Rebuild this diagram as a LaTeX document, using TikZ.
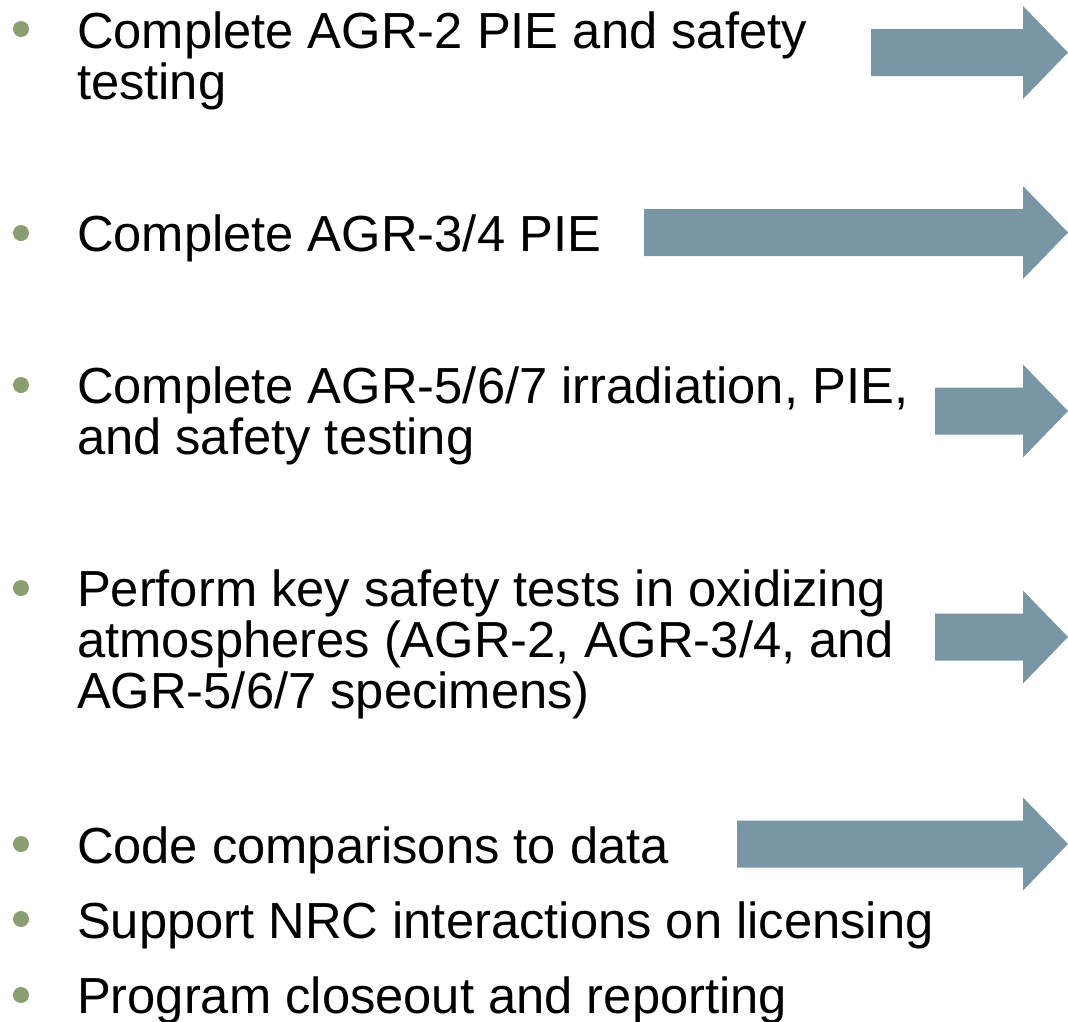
\documentclass[tikz,border=0pt]{standalone}
\usepackage{fontspec}
\setmainfont{Liberation Sans}
\usepackage{tikz}
\usetikzlibrary{
    calc,
    positioning
}
\definecolor{arrowgrey}{RGB}{120,150,163}
\definecolor{bulletgreen}{RGB}{140,158,111}
\tikzset{
    every picture/.style = {
        x = 1pt,
        y = -1pt
    },
    bultext/.style = {
        anchor = base west,
        align = left,
        inner sep = 0pt,
        outer sep = 0pt,
        font = \fontsize{50.7}{51}\selectfont
    },
    bul/.style = {
        circle,
        fill = bulletgreen,
        inner sep = 0pt,
        minimum size = 16pt
    },
    blockarrow/.style = {
        fill = arrowgrey
    }
}

\begin{document}
\begin{tikzpicture}
    \useasboundingbox (0,0) rectangle (1068,1021);

    % text nodes sit on the baseline of their last line
    \node[bultext] (t1) at (77,99)   {Complete AGR-2 PIE and safety\\testing};
    \node[bultext] (t2) at (77,251)  {Complete AGR-3/4 PIE};
    \node[bultext] (t3) at (77,454)  {Complete AGR-5/6/7 irradiation, PIE,\\and safety testing};
    \node[bultext] (t4) at (77,708)  {Perform key safety tests in oxidizing\\atmospheres (AGR-2, AGR-3/4, and\\AGR-5/6/7 specimens)};
    \node[bultext] (t5) at (77,863)  {Code comparisons to data};
    \node[bultext] (t6) at (77,938)  {Support NRC interactions on licensing};
    \node[bultext] (t7) at (77,1013) {Program closeout and reporting};

    \node[bul] (b1) at (21,29)  {};
    \node[bul] (b2) at (21,233) {};
    \node[bul] (b3) at (21,385) {};
    \node[bul] (b4) at (21,588) {};
    \node[bul] (b5) at (21,844) {};
    \node[bul] (b6) at (21,919) {};
    \node[bul] (b7) at (21,995) {};

    % block arrows: left end / centre line
    \foreach \xl/\yc in {871/52.5, 644/232.5, 935/411, 935/637, 737/844}
        \fill[blockarrow] (\xl,\yc-23.5) -- (1023,\yc-23.5) -- (1023,\yc-46.5)
            -- (1068,\yc) -- (1023,\yc+46.5) -- (1023,\yc+23.5)
            -- (\xl,\yc+23.5) -- cycle;
\end{tikzpicture}
\end{document}
